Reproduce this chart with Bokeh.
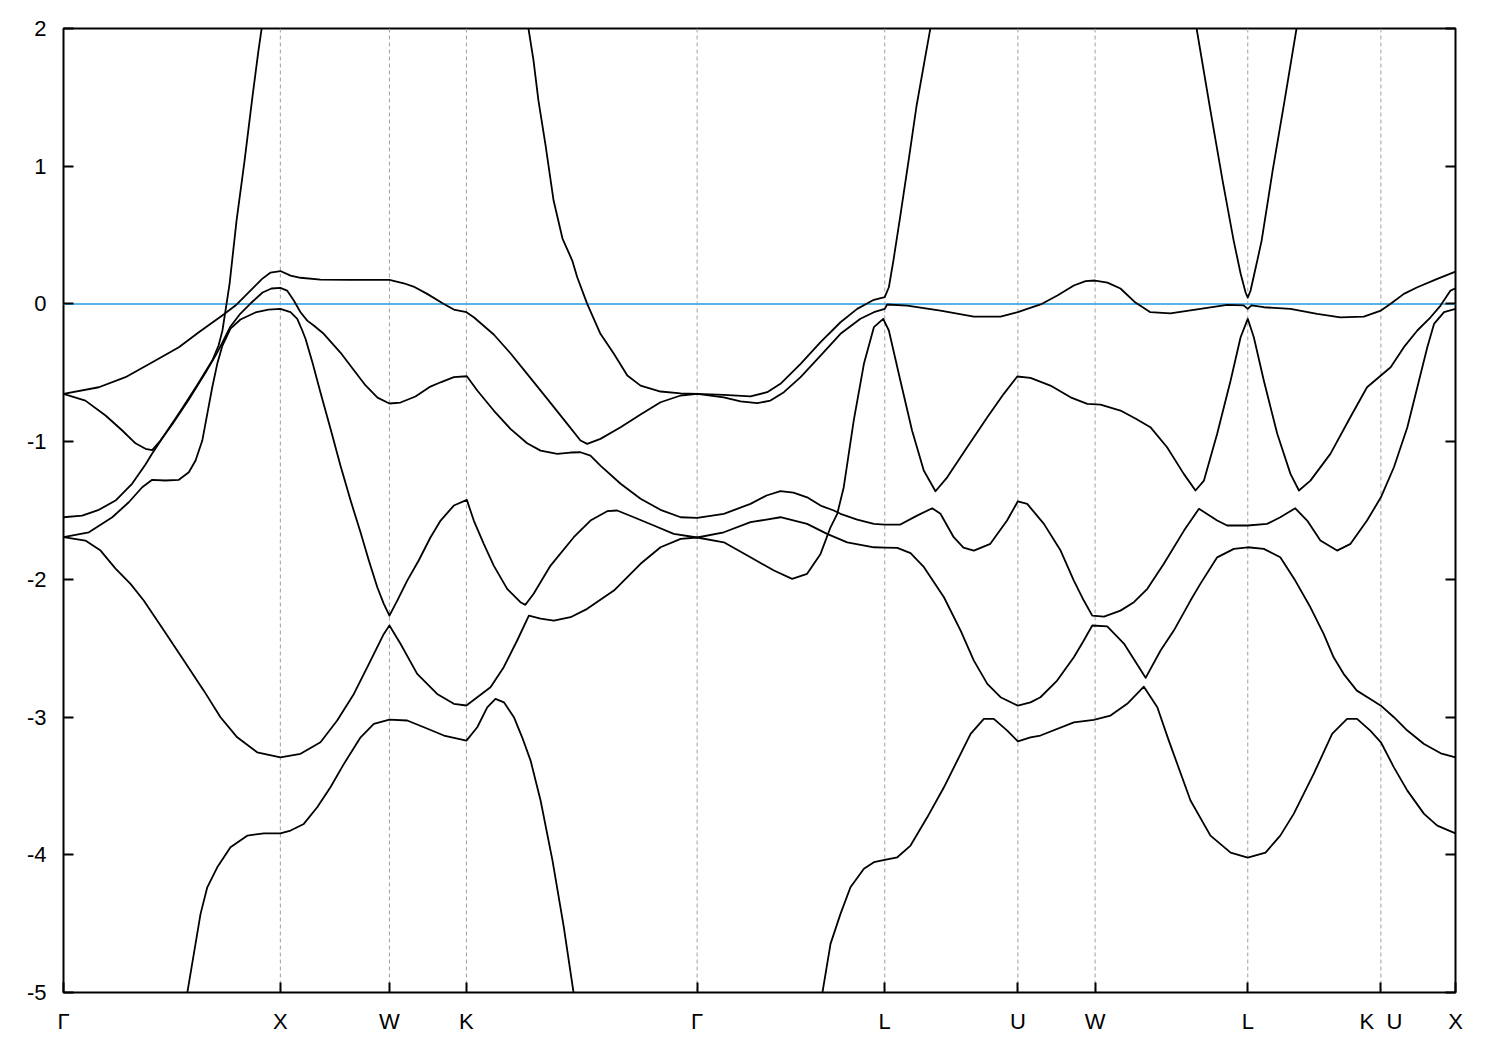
from bokeh.plotting import figure
from bokeh.models import Range1d, FixedTicker, LinearAxis, Span, CustomLabelingPolicy
from bokeh.embed import file_html
from bokeh.resources import INLINE

# high-symmetry path (k in units of 2*pi/a) and labels
K_TICKS = [0.0, 1.0, 1.503, 1.858, 2.922, 3.787, 4.401, 4.757, 5.461, 6.075, 6.419]
K_LABELS = ["Γ", "X", "W", "K", "Γ", "L", "U", "W", "L", "K\u00a0\u00a0U", "X"]
E_TICKS = [-5, -4, -3, -2, -1, 0, 1, 2]
E_LABELS = ["-5", "-4", "-3", "-2", "-1", "0", "1", "2"]
E_FERMI = 0.0

band_a_k = [0.0, 0.163, 0.286, 0.424, 0.532, 0.624, 0.732, 0.793, 0.855, 0.916, 0.955, 1.0, 1.047, 1.093, 1.185,
            1.323, 1.503, 1.569, 1.614, 1.677, 1.752, 1.8, 1.858, 1.892, 1.984, 2.061, 2.138, 2.231, 2.323, 2.384,
            2.415, 2.476, 2.569, 2.661, 2.753, 2.846, 2.922, 3.045, 3.122, 3.199, 3.26, 3.322, 3.399, 3.491, 3.583,
            3.675, 3.737, 3.787, 3.798, 3.891, 4.044, 4.198, 4.321, 4.401, 4.444, 4.506, 4.583, 4.659, 4.713, 4.757,
            4.814, 4.874, 4.943, 5.012, 5.104, 5.243, 5.366, 5.442, 5.461, 5.478, 5.535, 5.658, 5.781, 5.888, 5.996,
            6.075, 6.12, 6.181, 6.243, 6.335, 6.419]
band_a_e = [-0.653, -0.605, -0.532, -0.411, -0.314, -0.206, -0.084, -0.012, 0.085, 0.182, 0.228, 0.239, 0.206, 0.19,
            0.177, 0.175, 0.174, 0.150, 0.126, 0.073, 0.001, -0.041, -0.06, -0.097, -0.222, -0.358, -0.508, -0.689,
            -0.871, -0.992, -1.016, -0.98, -0.895, -0.803, -0.714, -0.665, -0.653, -0.678, -0.707, -0.721, -0.702,
            -0.641, -0.532, -0.375, -0.217, -0.108, -0.06, -0.036, -0.004, -0.012, -0.048, -0.092, -0.092, -0.06,
            -0.036, -0.004, 0.061, 0.134, 0.166, 0.17, 0.155, 0.112, 0.01, -0.06, -0.068, -0.036, -0.007, -0.01,
            -0.036, -0.01, -0.024, -0.036, -0.072, -0.097, -0.092, -0.048, 0.001, 0.073, 0.121, 0.182, 0.235]

band_b_k = [0.0, 0.101, 0.194, 0.271, 0.332, 0.378, 0.409, 0.447, 0.501, 0.578, 0.655, 0.701, 0.733, 0.77, 0.816,
            0.862, 0.918, 0.959, 1.0, 1.031, 1.062, 1.093, 1.124, 1.154, 1.2, 1.277, 1.333, 1.393, 1.448, 1.503,
            1.554, 1.623, 1.692, 1.739, 1.8, 1.86, 1.908, 1.984, 2.061, 2.138, 2.2, 2.277, 2.338, 2.384, 2.43, 2.476,
            2.569, 2.661, 2.753, 2.846, 2.922, 3.045, 3.168, 3.242, 3.306, 3.366, 3.429, 3.491, 3.552, 3.583, 3.66,
            3.737, 3.787, 3.859, 3.936, 4.006, 4.044, 4.105, 4.15, 4.198, 4.274, 4.351, 4.401, 4.444, 4.521, 4.598,
            4.659, 4.705, 4.744, 4.798, 4.874, 4.936, 4.998, 5.074, 5.167, 5.236, 5.32, 5.366, 5.461, 5.55, 5.611,
            5.68, 5.735, 5.796, 5.873, 5.935, 6.011, 6.075, 6.135, 6.197, 6.243, 6.289, 6.32, 6.366, 6.419]
band_b_e = [-0.653, -0.702, -0.81, -0.919, -1.012, -1.052, -1.061, -0.992, -0.876, -0.694, -0.498, -0.375, -0.28,
            -0.164, -0.07, 0.003, 0.083, 0.112, 0.117, 0.097, 0.025, -0.06, -0.121, -0.157, -0.217, -0.353, -0.469,
            -0.592, -0.68, -0.723, -0.716, -0.672, -0.6, -0.569, -0.532, -0.525, -0.629, -0.774, -0.907, -1.012,
            -1.065, -1.089, -1.079, -1.077, -1.101, -1.174, -1.306, -1.415, -1.495, -1.549, -1.553, -1.524, -1.452,
            -1.391, -1.36, -1.37, -1.404, -1.464, -1.5, -1.524, -1.566, -1.597, -1.602, -1.602, -1.537, -1.484,
            -1.524, -1.694, -1.769, -1.791, -1.742, -1.573, -1.433, -1.452, -1.597, -1.791, -2.009, -2.154, -2.263,
            -2.27, -2.227, -2.166, -2.069, -1.887, -1.646, -1.488, -1.573, -1.609, -1.609, -1.597, -1.549, -1.484,
            -1.573, -1.718, -1.791, -1.742, -1.573, -1.404, -1.186, -0.895, -0.605, -0.314, -0.145, -0.06, -0.036]

band_c_k = [0.0, 0.117, 0.225, 0.301, 0.363, 0.409, 0.47, 0.532, 0.578, 0.609, 0.64, 0.663, 0.686, 0.709, 0.733,
            0.77, 0.816, 0.885, 0.945, 1.0, 1.047, 1.078, 1.101, 1.116, 1.148, 1.185, 1.231, 1.277, 1.324, 1.37,
            1.408, 1.447, 1.477, 1.503, 1.539, 1.585, 1.638, 1.692, 1.739, 1.8, 1.86, 1.892, 1.938, 1.984, 2.046,
            2.107, 2.13, 2.168, 2.246, 2.353, 2.43, 2.507, 2.553, 2.63, 2.722, 2.814, 2.922, 3.045, 3.168, 3.306,
            3.429, 3.521, 3.614, 3.737, 3.787, 3.845, 3.906, 3.968, 4.06, 4.137, 4.198, 4.26, 4.321, 4.401, 4.459,
            4.505, 4.582, 4.659, 4.705, 4.744, 4.813, 4.89, 4.99, 5.059, 5.12, 5.197, 5.243, 5.32, 5.397, 5.461,
            5.535, 5.611, 5.68, 5.75, 5.811, 5.857, 5.903, 5.964, 6.026, 6.075, 6.135, 6.197, 6.274, 6.351, 6.419]
band_c_e = [-1.694, -1.658, -1.549, -1.44, -1.331, -1.277, -1.282, -1.277, -1.222, -1.137, -0.992, -0.798, -0.605,
            -0.435, -0.302, -0.179, -0.113, -0.062, -0.041, -0.036, -0.06, -0.108, -0.193, -0.253, -0.426, -0.643,
            -0.905, -1.174, -1.428, -1.66, -1.863, -2.057, -2.178, -2.263, -2.154, -2.009, -1.863, -1.696, -1.573,
            -1.464, -1.423, -1.573, -1.742, -1.9, -2.069, -2.166, -2.185, -2.105, -1.9, -1.694, -1.573, -1.505,
            -1.5, -1.549, -1.609, -1.67, -1.696, -1.658, -1.585, -1.549, -1.597, -1.67, -1.731, -1.767, -1.769,
            -1.771, -1.81, -1.912, -2.13, -2.372, -2.59, -2.759, -2.856, -2.917, -2.893, -2.856, -2.735, -2.566,
            -2.444, -2.335, -2.341, -2.466, -2.715, -2.517, -2.372, -2.154, -2.031, -1.84, -1.779, -1.767, -1.779,
            -1.84, -2.009, -2.203, -2.396, -2.566, -2.686, -2.808, -2.868, -2.917, -3.001, -3.098, -3.195, -3.263,
            -3.292]

band_d_k = [0.0, 0.101, 0.171, 0.24, 0.309, 0.37, 0.463, 0.555, 0.647, 0.724, 0.801, 0.893, 1.0, 1.093, 1.185,
            1.262, 1.339, 1.416, 1.477, 1.503, 1.554, 1.631, 1.723, 1.8, 1.858, 1.908, 1.969, 2.03, 2.092, 2.146,
            2.2, 2.261, 2.338, 2.415, 2.538, 2.661, 2.753, 2.846, 2.922, 3.045, 3.168, 3.276, 3.36, 3.429, 3.491,
            3.537, 3.568, 3.598, 3.644, 3.691, 3.737, 3.78, 3.806, 3.859, 3.913, 3.967, 4.021, 4.075, 4.167, 4.26,
            4.336, 4.398, 4.459, 4.551, 4.644, 4.721, 4.782, 4.874, 4.943, 5.012, 5.089, 5.166, 5.22, 5.259, 5.32,
            5.382, 5.428, 5.461, 5.489, 5.535, 5.597, 5.658, 5.697, 5.75, 5.842, 5.934, 6.011, 6.075, 6.12, 6.181,
            6.243, 6.304, 6.35, 6.396, 6.419]
band_d_e = [-1.694, -1.718, -1.791, -1.922, -2.033, -2.154, -2.372, -2.59, -2.808, -3.001, -3.147, -3.256, -3.292,
            -3.267, -3.183, -3.025, -2.832, -2.59, -2.396, -2.335, -2.468, -2.686, -2.832, -2.904, -2.916, -2.856,
            -2.784, -2.638, -2.444, -2.263, -2.285, -2.299, -2.275, -2.214, -2.081, -1.887, -1.767, -1.706, -1.696,
            -1.731, -1.84, -1.936, -1.996, -1.96, -1.815, -1.622, -1.524, -1.331, -0.847, -0.435, -0.169, -0.108,
            -0.193, -0.556, -0.919, -1.21, -1.36, -1.259, -1.041, -0.823, -0.653, -0.527, -0.537, -0.593, -0.678,
            -0.726, -0.731, -0.774, -0.832, -0.895, -1.041, -1.234, -1.355, -1.283, -0.943, -0.556, -0.242, -0.108,
            -0.242, -0.556, -0.943, -1.234, -1.355, -1.283, -1.089, -0.823, -0.605, -0.52, -0.46, -0.314, -0.193,
            -0.097, -0.012, 0.097, 0.114]

band_e_k = [0.553, 0.57, 0.601, 0.632, 0.663, 0.709, 0.77, 0.847, 0.924, 1.0, 1.047, 1.108, 1.17, 1.231, 1.293,
            1.37, 1.431, 1.503, 1.585, 1.662, 1.754, 1.858, 1.908, 1.954, 1.992, 2.031, 2.077, 2.115, 2.154, 2.2,
            2.255, 2.306, 2.352, 2.37, 3.482, 3.499, 3.537, 3.583, 3.629, 3.691, 3.737, 3.787, 3.845, 3.906, 3.983,
            4.06, 4.137, 4.183, 4.244, 4.29, 4.352, 4.401, 4.459, 4.505, 4.659, 4.751, 4.828, 4.905, 4.982, 5.044,
            5.097, 5.197, 5.289, 5.382, 5.461, 5.543, 5.611, 5.673, 5.765, 5.85, 5.919, 5.965, 6.026, 6.075, 6.135,
            6.197, 6.274, 6.335, 6.419]
band_e_e = [-5.17, -5.01, -4.72, -4.429, -4.236, -4.091, -3.946, -3.861, -3.844, -3.844, -3.824, -3.776, -3.655,
            -3.51, -3.34, -3.147, -3.049, -3.018, -3.025, -3.074, -3.134, -3.171, -3.074, -2.929, -2.868, -2.893,
            -3.001, -3.147, -3.316, -3.606, -4.042, -4.514, -5.0, -5.2, -5.2, -5.007, -4.647, -4.429, -4.236, -4.102,
            -4.054, -4.037, -4.018, -3.933, -3.728, -3.51, -3.267, -3.122, -3.013, -3.013, -3.098, -3.176, -3.147,
            -3.134, -3.038, -3.02, -2.989, -2.904, -2.779, -2.929, -3.171, -3.606, -3.861, -3.984, -4.02, -3.984,
            -3.861, -3.703, -3.413, -3.122, -3.013, -3.013, -3.098, -3.183, -3.365, -3.534, -3.703, -3.788, -3.844]

band_s_k = [0.0, 0.086, 0.163, 0.24, 0.317, 0.378, 0.409, 0.47, 0.547, 0.624, 0.686, 0.715, 0.733, 0.747, 0.766,
            0.798, 0.835, 0.872, 0.899, 0.922, 2.14, 2.144, 2.167, 2.19, 2.223, 2.26, 2.301, 2.346, 2.369, 2.415,
            2.476, 2.538, 2.6, 2.661, 2.753, 2.846, 2.922, 3.045, 3.168, 3.245, 3.306, 3.399, 3.491, 3.583, 3.66,
            3.737, 3.787, 3.806, 3.827, 3.859, 3.897, 3.934, 3.971, 4.003, 5.22, 5.225, 5.289, 5.345, 5.396, 5.428,
            5.451, 5.461, 5.474, 5.505, 5.525, 5.576, 5.631, 5.686, 5.695]
band_s_e = [-1.549, -1.537, -1.495, -1.428, -1.304, -1.166, -1.086, -0.941, -0.76, -0.571, -0.411, -0.302, -0.193,
            -0.048, 0.148, 0.605, 1.041, 1.513, 1.84, 2.09, 2.09, 2.0, 1.772, 1.478, 1.151, 0.751, 0.475, 0.315,
            0.194, 0.0, -0.217, -0.362, -0.52, -0.593, -0.636, -0.649, -0.653, -0.66, -0.672, -0.641, -0.58, -0.435,
            -0.278, -0.133, -0.036, 0.03, 0.049, 0.121, 0.315, 0.642, 1.041, 1.441, 1.768, 2.05, 2.05, 2.0, 1.404,
            0.896, 0.46, 0.221, 0.083, 0.046, 0.097, 0.315, 0.46, 0.969, 1.478, 2.0, 2.09]

BANDS = [(band_a_k, band_a_e), (band_b_k, band_b_e), (band_c_k, band_c_e),
         (band_d_k, band_d_e), (band_e_k, band_e_e), (band_s_k, band_s_e)]
for bk, be in BANDS:
    assert len(bk) == len(be), (len(bk), len(be))

FONT = "Liberation Sans"

p = figure(width=1490, height=1040,
           x_range=Range1d(K_TICKS[0], K_TICKS[-1]), y_range=Range1d(-5, 2),
           output_backend="svg", toolbar_location=None,
           min_border_left=63, min_border_right=35, min_border_top=28, min_border_bottom=48)
p.grid.visible = False
p.background_fill_color = "white"
p.border_fill_color = "white"
p.outline_line_color = "black"
p.outline_line_width = 2

# vertical dashed lines at interior high-symmetry points
for t in K_TICKS[1:-1]:
    p.add_layout(Span(location=t, dimension="height", line_color="#a0a0a0",
                      line_width=1, line_dash="4 3", level="underlay"))
# Fermi level
p.add_layout(Span(location=E_FERMI, dimension="width", line_color="#56b4e9",
                  line_width=2, level="underlay"))

for bk, be in BANDS:
    p.line(bk, be, line_color="black", line_width=1.8, line_join="round")

# x axis
xa = p.xaxis[0]
xa.ticker = FixedTicker(ticks=K_TICKS)
xa.major_label_overrides = {t: lab for t, lab in zip(K_TICKS, K_LABELS)}
xa.axis_line_color = None
xa.major_tick_in = 10
xa.major_tick_out = 0
xa.major_tick_line_width = 2
xa.minor_tick_line_color = None
xa.major_label_text_font = FONT
xa.major_label_text_font_size = "22px"
xa.major_label_text_color = "black"
xa.major_label_standoff = 16

# y axis
ya = p.yaxis[0]
ya.ticker = FixedTicker(ticks=E_TICKS)
ya.major_label_overrides = {t: lab for t, lab in zip(E_TICKS, E_LABELS)}
ya.axis_line_color = None
ya.major_tick_in = 10
ya.major_tick_out = 0
ya.major_tick_line_width = 2
ya.minor_tick_line_color = None
ya.major_label_text_font = FONT
ya.major_label_text_font_size = "22px"
ya.major_label_text_color = "black"
ya.major_label_standoff = 17

# mirrored ticks on the right, without labels
ra = LinearAxis(ticker=FixedTicker(ticks=E_TICKS), axis_line_color=None,
                major_tick_in=10, major_tick_out=0, major_tick_line_width=2,
                minor_tick_line_color=None,
                major_label_policy=CustomLabelingPolicy(code="""
                    for (const i of indices) indices.unset(i)
                    return indices
                """))
p.add_layout(ra, "right")

open("out.html", "w").write(file_html(p, INLINE))
